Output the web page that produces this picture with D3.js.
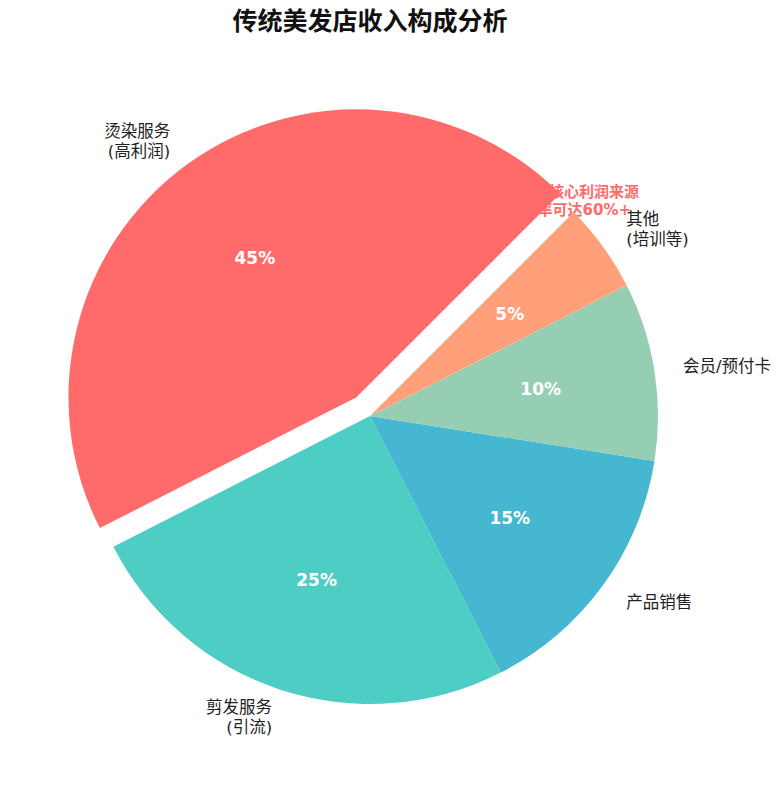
<!DOCTYPE html>
<meta charset="utf-8">
<style>
    body { margin: 0; background: #fff; }
    svg { display: block; }
    .lbl { font-family: "DejaVu Sans", "Noto Sans CJK SC", sans-serif; fill: #222; }
</style>
<body>
<script src="https://d3js.org/d3.v7.min.js"></script>
<script>
    // chart data
    const categories = ['烫染服务\n(高利润)', '剪发服务\n(引流)', '产品销售', '会员/预付卡', '其他\n(培训等)'];
    const shares = [45, 25, 15, 10, 5];
    const colors = ['#FF6B6B', '#4ECDC4', '#45B7D1', '#96CEB4', '#FFA07A'];
    const explode = [0.08, 0, 0, 0, 0];
    const noteLines = ['核心利润来源', '毛利率可达60%+'];

    const width = 781, height = 786;
    const cx = 370, cy = 416, radius = 288;

    const svg = d3.select('body').append('svg')
        .attr('width', width)
        .attr('height', height);

    svg.append('text')
        .attr('x', cx)
        .attr('y', 30)
        .attr('text-anchor', 'middle')
        .style('font-family', '"Noto Sans CJK SC", sans-serif')
        .style('font-weight', 700)
        .style('font-size', '25px')
        .style('fill', '#111')
        .text('传统美发店收入构成分析');

    // annotation sits under the wedges, same red as the top slice
    const note = svg.append('text')
        .attr('text-anchor', 'end')
        .style('font-family', '"DejaVu Sans", "Noto Sans CJK SC", sans-serif')
        .style('font-weight', 700)
        .style('font-size', '15px')
        .style('fill', colors[0]);
    note.append('tspan').attr('x', cx + 269).attr('y', cy - 219).text(noteLines[0]);
    note.append('tspan').attr('x', cx + 261).attr('y', cy - 201).text(noteLines[1]);

    // matplotlib style: start at 45deg, counterclockwise
    const pie = d3.pie()
        .sort(null)
        .value(d => d)
        .startAngle(Math.PI / 4)
        .endAngle(Math.PI / 4 - 2 * Math.PI);

    const arcs = pie(shares).map((d, i) => {
        const mid = (d.startAngle + d.endAngle) / 2;
        const off = explode[i] * radius;
        return Object.assign(d, {
            i: i,
            mid: mid,
            ox: cx + off * Math.sin(mid),
            oy: cy - off * Math.cos(mid)
        });
    });

    const arc = d3.arc().innerRadius(0).outerRadius(radius);

    const g = svg.append('g');

    g.selectAll('path')
        .data(arcs)
        .enter().append('path')
        .attr('transform', d => 'translate(' + d.ox + ',' + d.oy + ')')
        .attr('d', d => arc({startAngle: d.endAngle, endAngle: d.startAngle}))
        .style('fill', d => colors[d.i]);

    // percentages
    g.selectAll('.pct')
        .data(arcs)
        .enter().append('text')
        .attr('class', 'pct')
        .attr('x', d => d.ox + 0.6 * radius * Math.sin(d.mid))
        .attr('y', d => d.oy - 0.6 * radius * Math.cos(d.mid))
        .attr('text-anchor', 'middle')
        .attr('dominant-baseline', 'central')
        .style('font-family', '"DejaVu Sans", sans-serif')
        .style('font-weight', 700)
        .style('font-size', '17px')
        .style('fill', '#fff')
        .text(d => d.data + '%');

    // category labels
    const lineH = 20;
    g.selectAll('.lbl')
        .data(arcs)
        .enter().append('text')
        .attr('class', 'lbl')
        .style('font-size', '16.5px')
        .attr('text-anchor', d => Math.sin(d.mid) < 0 ? 'end' : 'start')
        .each(function(d) {
            const lines = categories[d.i].split('\n');
            const x = d.ox + 1.1 * radius * Math.sin(d.mid);
            const y = d.oy - 1.1 * radius * Math.cos(d.mid);
            const top = y - (lines.length - 1) * lineH / 2;
            lines.forEach((t, k) => {
                d3.select(this).append('tspan')
                    .attr('x', x)
                    .attr('y', top + k * lineH)
                    .attr('dominant-baseline', 'central')
                    .text(t);
            });
        });
</script>
</body>
